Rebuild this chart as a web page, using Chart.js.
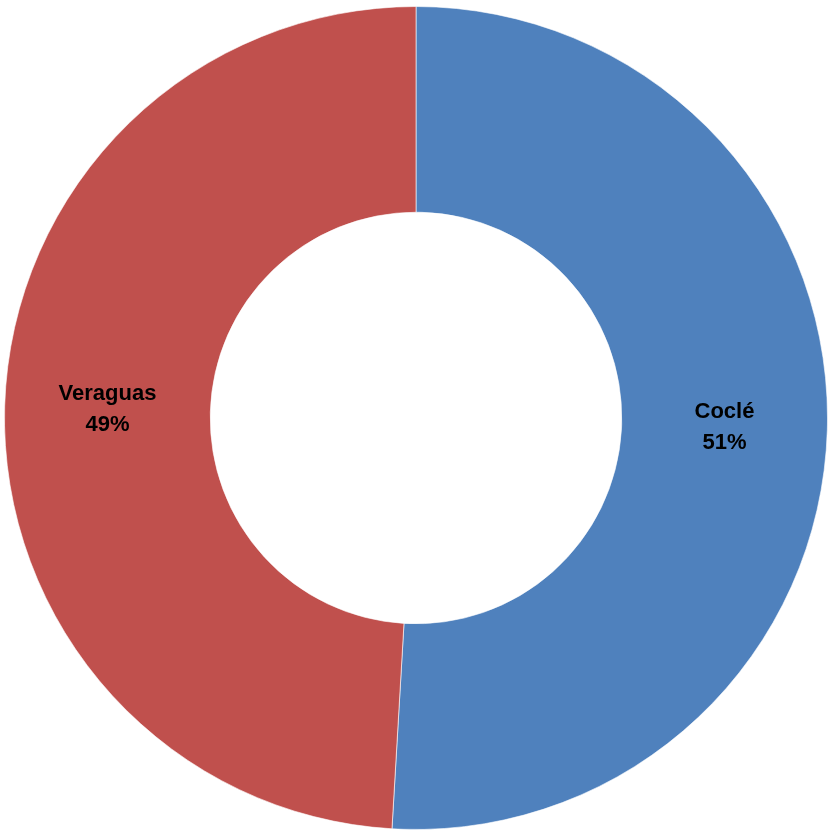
<!DOCTYPE html>
<html>
<head>
<meta charset="utf-8">
<script src="https://cdn.jsdelivr.net/npm/chart.js@4"></script>
<style>
  html, body { margin: 0; padding: 0; background: #fff; }
  #wrap { width: 828px; height: 832px; }
</style>
</head>
<body>
<div id="wrap"><canvas id="myChart"></canvas></div>
<script>
const categories = ["Coclé", "Veraguas"];
const shares = [50.93, 49.07];
const shareLabels = ["51%", "49%"];
const sliceColors = ["#4F81BD", "#C0504D"];

// draws "name / percent" in the middle of each slice
const sliceLabels = {
  id: "sliceLabels",
  afterDatasetsDraw(chart) {
    const ctx = chart.ctx;
    const meta = chart.getDatasetMeta(0);
    ctx.save();
    ctx.fillStyle = "#000";
    ctx.font = "bold 22px 'Liberation Sans', Arial, sans-serif";
    ctx.textAlign = "center";
    ctx.textBaseline = "middle";
    meta.data.forEach((arc, i) => {
      const pos = arc.tooltipPosition();
      ctx.fillText(categories[i], pos.x, pos.y - 15);
      ctx.fillText(shareLabels[i], pos.x, pos.y + 16);
    });
    ctx.restore();
  },
};

const ctx = document.getElementById("myChart").getContext("2d");
const myChart = new Chart(ctx, {
  type: "doughnut",
  data: {
    labels: categories,
    datasets: [
      {
        data: shares,
        backgroundColor: sliceColors,
        borderColor: "rgba(255,255,255,0.6)",
        borderWidth: 1,
      },
    ],
  },
  options: {
    responsive: true,
    maintainAspectRatio: false,
    animation: false,
    cutout: "50%",
    layout: { padding: { left: 4, right: 0, top: 5, bottom: 1 } },
    plugins: {
      legend: { display: false },
      tooltip: { enabled: false },
    },
  },
  plugins: [sliceLabels],
});
</script>
</body>
</html>
